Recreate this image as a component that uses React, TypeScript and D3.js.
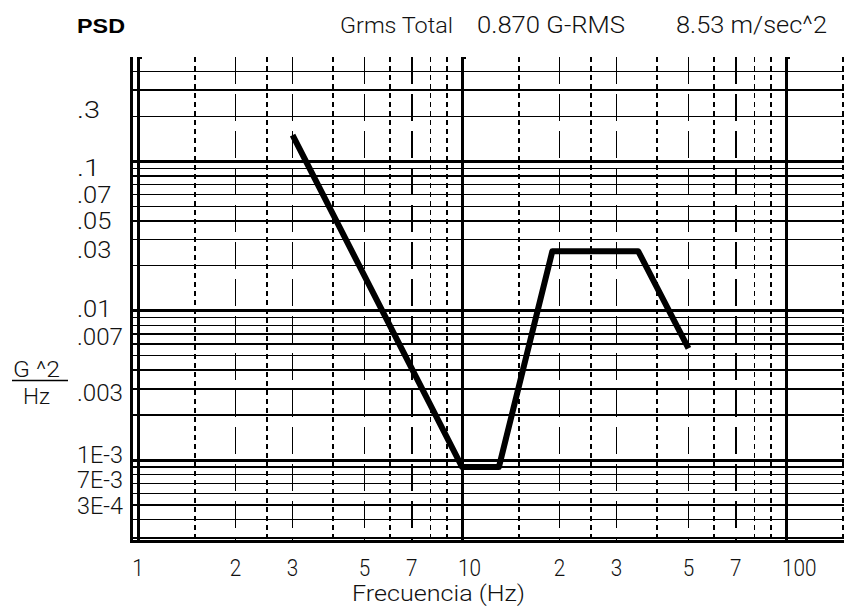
import React from "react";
import * as d3 from "d3";

// ---- data ----
const freq = [3, 10, 13, 19, 35, 50];
const psd = [0.15, 0.0009, 0.0009, 0.025, 0.025, 0.0056];

const xTickValues = [1, 2, 3, 5, 7, 10, 20, 30, 50, 70, 100];
const xTickLabels = ["1", "2", "3", "5", "7", "10", "2", "3", "5", "7", "100"];
const xMajor = [1, 10, 100];
const xMinorSolid = [2, 3, 5, 7, 20, 30, 50, 70];
const xMinorDashed = [1.5, 2.5, 4, 6, 8, 9, 15, 25, 40, 60, 80, 90, 150];

const yMajor = [0.1, 0.01, 0.001];
const yMinor = [
  0.4, 0.3, 0.2,
  0.09, 0.08, 0.07, 0.06, 0.05, 0.04, 0.03, 0.02,
  0.009, 0.008, 0.007, 0.006, 0.005, 0.004, 0.003, 0.002,
  0.0009, 0.0008, 0.0007, 0.0006, 0.0005, 0.0004, 0.0003,
];
const yLabels = [".3", ".1", ".07", ".05", ".03", ".01", ".007", ".003", "1E-3", "7E-3", "3E-4"];
const yLabelPos = [0.221, 0.091, 0.06, 0.0397, 0.0256, 0.0102, 0.0067, 0.00282, 0.00108, 0.000734, 0.000492];

const W = 844;
const H = 607;
const LEFT = 138;
const FRAME_X = 131;
const TOP = 57;
const BOTTOM = 541.5;
const CHAR_W = 11.5;
const FONT = "'Liberation Sans', Arial, sans-serif";
const THIN = "Roboto, 'Liberation Sans', sans-serif";

const x = d3.scaleLog().domain([1, 100]).range([LEFT, 786]);
const y = d3.scaleLog().domain([0.5, 2.85e-4]).range([TOP, BOTTOM]);

function T(props: {
  x: number; y: number; text: string; size: number; len?: number; bold?: boolean;
}) {
  const { text, size, len, bold } = props;
  return (
    <text
      x={props.x}
      y={props.y}
      fontFamily={bold ? FONT : THIN}
      fontSize={size}
      fontWeight={bold ? 700 : 300}
      fill={bold ? "#000" : "#111"}
      textLength={len}
      lengthAdjust={len ? "spacingAndGlyphs" : undefined}
    >
      {text}
    </text>
  );
}

export default function App() {
  const line = d3
    .line<number>()
    .x((_, i) => x(freq[i]))
    .y((_, i) => y(psd[i]))(psd);

  return (
    <svg
      width={W}
      height={H}
      style={{ position: "absolute", left: 0, top: 0, background: "#fff" }}
    >
      <rect x={0} y={0} width={W} height={H} fill="#fff" />
      {/* horizontal minor grid */}
      <g stroke="#000" strokeWidth={1.4} shapeRendering="crispEdges">
        {yMinor.map((v) => (
          <line key={"hm" + v} x1={FRAME_X} x2={W} y1={y(v)} y2={y(v)} />
        ))}
      </g>
      {/* horizontal major grid */}
      <g stroke="#000" strokeWidth={3} shapeRendering="crispEdges">
        {yMajor.map((v) => (
          <line key={"hM" + v} x1={FRAME_X} x2={W} y1={y(v)} y2={y(v)} />
        ))}
      </g>
      {/* vertical dashed */}
      <g stroke="#000" strokeWidth={1.5} strokeDasharray="5,4" shapeRendering="crispEdges">
        {xMinorDashed.map((v) => (
          <line key={"vd" + v} x1={x(v)} x2={x(v)} y1={TOP} y2={BOTTOM} />
        ))}
      </g>
      {/* vertical long-dash */}
      <g stroke="#000" strokeWidth={1.5} strokeDasharray="27,10" shapeRendering="crispEdges">
        {xMinorSolid.map((v) => (
          <line key={"vs" + v} x1={x(v)} x2={x(v)} y1={TOP} y2={BOTTOM} />
        ))}
      </g>
      {/* vertical decades */}
      <g stroke="#000" strokeWidth={3} shapeRendering="crispEdges">
        {xMajor.map((v) => (
          <g key={"vM" + v}>
            <line x1={x(v)} x2={x(v)} y1={TOP} y2={BOTTOM} />
            <line x1={x(v)} x2={x(v) + 4} y1={TOP + 1} y2={TOP + 1} strokeWidth={2} />
          </g>
        ))}
      </g>
      {/* frame */}
      <g stroke="#000" strokeWidth={3} shapeRendering="crispEdges">
        <line x1={FRAME_X} x2={FRAME_X} y1={TOP} y2={BOTTOM + 1} />
        <line x1={FRAME_X} x2={W} y1={BOTTOM} y2={BOTTOM} />
      </g>

      {/* data line */}
      <path d={line || ""} fill="none" stroke="#000" strokeWidth={6} strokeLinejoin="round" />

      {/* y labels */}
      {yLabels.map((t, i) => (
        <T key={"yl" + i} x={77} y={y(yLabelPos[i]) + 8} text={t} size={23} len={t.length * CHAR_W} />
      ))}

      {/* x labels */}
      {xTickLabels.map((t, i) => {
        const len = t.length * CHAR_W;
        const cx = x(xTickValues[i]);
        const sx = t.length > 1 ? cx - 4 : cx - len / 2;
        return <T key={"xl" + i} x={sx} y={576} text={t} size={23} len={len} />;
      })}

      {/* header */}
      <T x={77} y={33} text="PSD" size={21} bold len={48} />
      <T x={340} y={33} text="Grms Total" size={22} len={113} />
      <T x={477} y={33} text="0.870 G-RMS" size={23} len={148} />
      <T x={676} y={33} text="8.53 m/sec^2" size={23} len={151} />

      {/* axis titles */}
      <T x={352} y={601} text="Frecuencia  (Hz)" size={22} len={173} />
      <T x={13} y={377} text="G ^2" size={22} len={47} />
      <line x1={12} x2={68} y1={380.5} y2={380.5} stroke="#000" strokeWidth={1.5} />
      <T x={23} y={404} text="Hz" size={22} len={27} />
    </svg>
  );
}
